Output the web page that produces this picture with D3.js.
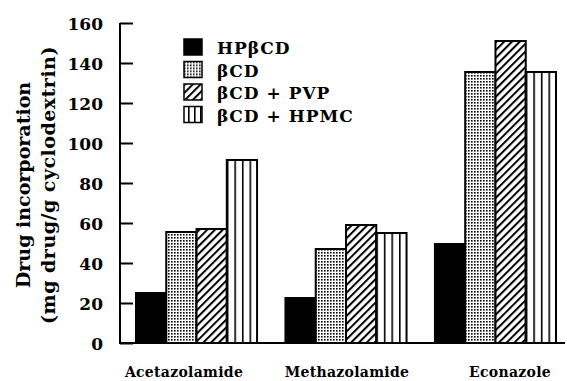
<!DOCTYPE html>
<html>
<head>
<meta charset="utf-8">
<script src="https://cdn.jsdelivr.net/npm/d3@7"></script>
<style>
  body { margin: 0; background: #fff; }
  text { font-family: "DejaVu Serif", serif; font-weight: bold; fill: #000; }
</style>
</head>
<body>
<div id="chart"></div>
<script>
const drugs = ['Acetazolamide', 'Methazolamide', 'Econazole'];
const series = ['HPβCD', 'βCD', 'βCD + PVP', 'βCD + HPMC'];
const hpbcd = [25, 22.5, 49.5];
const bcd = [55.5, 47, 135.5];
const bcdPvp = [57, 59, 151];
const bcdHpmc = [91.5, 55, 135.5];
const yTicks = [0, 20, 40, 60, 80, 100, 120, 140, 160];

const values = [hpbcd, bcd, bcdPvp, bcdHpmc];
const fills = ['#000', 'url(#dots)', 'url(#hatch)', 'url(#stripes)'];

const w = 567, h = 381;
const svg = d3.select('#chart').append('svg')
    .attr('width', w)
    .attr('height', h);

const defs = svg.append('defs');

// stipple pattern
const dots = defs.append('pattern')
    .attr('id', 'dots')
    .attr('patternUnits', 'userSpaceOnUse')
    .attr('width', 3).attr('height', 3);
dots.append('rect').attr('width', 3).attr('height', 3).attr('fill', '#fff');
dots.append('rect').attr('width', 1.6).attr('height', 1.6).attr('fill', '#000');

// diagonal hatch
const hatch = defs.append('pattern')
    .attr('id', 'hatch')
    .attr('patternUnits', 'userSpaceOnUse')
    .attr('width', 5.5).attr('height', 5.5)
    .attr('patternTransform', 'rotate(45)');
hatch.append('rect').attr('width', 5.5).attr('height', 5.5).attr('fill', '#fff');
hatch.append('rect').attr('width', 2).attr('height', 5.5).attr('fill', '#000');

const x0 = d3.scaleBand()
    .domain(drugs)
    .range([120, 572])
    .paddingInner(0.19)
    .paddingOuter(0.107);

const x1 = d3.scaleBand()
    .domain(series)
    .range([0, x0.bandwidth()]);

// category labels sit a little wider apart than the groups
const xLabel = d3.scalePoint()
    .domain(drugs)
    .range([184, 510]);

const y = d3.scaleLinear()
    .domain([0, 160])
    .range([343, 23]);

// vertical stripes, aligned to each bar
const sw = x1.bandwidth() / 4;
drugs.forEach((d, i) => {
    const p = defs.append('pattern')
        .attr('id', 'stripes' + i)
        .attr('patternUnits', 'userSpaceOnUse')
        .attr('x', x0(d) + x1(series[3]))
        .attr('width', sw).attr('height', 10);
    p.append('rect').attr('width', sw).attr('height', 10).attr('fill', '#fff');
    p.append('rect').attr('width', 1.6).attr('height', 10).attr('fill', '#000');
});

const bars = [];
drugs.forEach((d, i) => {
    series.forEach((s, j) => {
        bars.push({ drug: d, di: i, s: s, sj: j, v: values[j][i] });
    });
});

svg.append('g')
    .selectAll('rect')
    .data(bars)
    .enter()
    .append('rect')
    .attr('x', d => x0(d.drug) + x1(d.s))
    .attr('y', d => y(d.v))
    .attr('width', x1.bandwidth())
    .attr('height', d => y(0) - y(d.v))
    .attr('fill', d => d.sj === 3 ? 'url(#stripes' + d.di + ')' : fills[d.sj])
    .attr('stroke', '#000')
    .attr('stroke-width', 2);

// y axis
const yAxis = d3.axisLeft(y)
    .tickValues(yTicks)
    .tickSize(-13)
    .tickPadding(17)
    .tickFormat(d3.format('d'));

const gy = svg.append('g')
    .attr('transform', 'translate(120,0)')
    .call(yAxis);
gy.select('.domain').remove();
gy.selectAll('line').attr('stroke', '#000').attr('stroke-width', 2);
gy.selectAll('text')
    .style('font-size', '17px')
    .attr('dy', '0.36em');

svg.append('line')
    .attr('x1', 120).attr('x2', 120)
    .attr('y1', y(160)).attr('y2', y(0) + 1)
    .attr('stroke', '#000').attr('stroke-width', 2);

// baseline
svg.append('line')
    .attr('x1', 119).attr('x2', 565)
    .attr('y1', y(0)).attr('y2', y(0))
    .attr('stroke', '#000').attr('stroke-width', 2);

// category labels
svg.append('g')
    .selectAll('text')
    .data(drugs)
    .enter()
    .append('text')
    .attr('x', d => xLabel(d))
    .attr('y', 377)
    .attr('text-anchor', 'middle')
    .style('font-size', '14px')
    .style('letter-spacing', '0.3px')
    .text(d => d);

// axis title
const yt = svg.append('g')
    .attr('transform', 'translate(0,185) rotate(-90)');
yt.append('text')
    .attr('x', 0).attr('y', 30)
    .attr('text-anchor', 'middle')
    .style('font-size', '19px')
    .text('Drug incorporation');
yt.append('text')
    .attr('x', 0).attr('y', 55)
    .attr('text-anchor', 'middle')
    .style('font-size', '19px')
    .style('letter-spacing', '0.5px')
    .text('(mg drug/g cyclodextrin)');

// legend
const leg = svg.append('g')
    .attr('transform', 'translate(184,39)');
const legFills = ['#000', 'url(#dots)', 'url(#hatch)', 'url(#legstripes)'];
const ls = defs.append('pattern')
    .attr('id', 'legstripes')
    .attr('patternUnits', 'userSpaceOnUse')
    .attr('x', 184)
    .attr('width', 6).attr('height', 10);
ls.append('rect').attr('width', 6).attr('height', 10).attr('fill', '#fff');
ls.append('rect').attr('width', 1.6).attr('height', 10).attr('fill', '#000');

const items = leg.selectAll('g')
    .data(series)
    .enter()
    .append('g')
    .attr('transform', (d, i) => 'translate(0,' + (i * 22.5) + ')');
items.append('rect')
    .attr('width', 18).attr('height', 16)
    .attr('fill', (d, i) => legFills[i])
    .attr('stroke', '#000')
    .attr('stroke-width', 1.5);
items.append('text')
    .attr('x', 33).attr('y', 15)
    .style('font-size', '17px')
    .style('letter-spacing', '1px')
    .text(d => d);
</script>
</body>
</html>
